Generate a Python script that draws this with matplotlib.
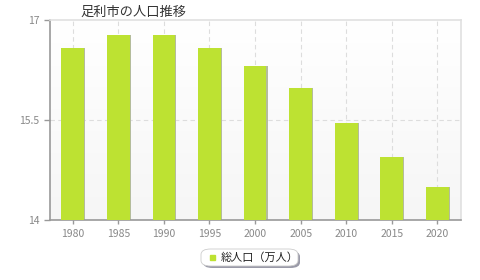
import matplotlib.pyplot as plt
import numpy as np
from matplotlib.patches import FancyBboxPatch

plt.rcParams['font.family'] = ['Noto Sans CJK JP', 'DejaVu Sans']

years = [1980, 1985, 1990, 1995, 2000, 2005, 2010, 2015, 2020]
population = [16.58, 16.77, 16.77, 16.58, 16.31, 15.98, 15.45, 14.95, 14.50]
yticks = [14, 15.5, 17]
ytick_labels = ['14', '15.5', '17']
title = '足利市の人口推移'
series_name = '総人口（万人）'

bar_color = '#bde232'

fig = plt.figure(figsize=(4.8, 2.8), dpi=100)
ax = fig.add_axes([50 / 480, 60 / 280, 411 / 480, 200 / 280])

# background gradient (white at top, light gray at bottom)
grad = np.linspace(0.0, 1.0, 100).reshape(-1, 1)
ax.imshow(grad, extent=[1977.5, 2022.6, 14, 17], aspect='auto',
          cmap=plt.matplotlib.colors.LinearSegmentedColormap.from_list(
              'bg', ['#ffffff', '#f6f6f6']), zorder=0, origin='upper')

ax.set_xlim(1977.5, 2022.6)
ax.set_ylim(14, 17)

# grid
for y in years:
    ax.axvline(y, color='#dddddd', ls=(0, (4, 3)), lw=0.8, zorder=1)
ax.axhline(15.5, color='#dddddd', ls=(0, (4, 3)), lw=0.8, zorder=1)

# shadow then bars
ax.bar(np.array(years) + 0.12, np.array(population) - 14, bottom=14, width=2.5,
       color='#b4bc9c', zorder=2)
ax.bar(years, np.array(population) - 14, bottom=14, width=2.5,
       color=bar_color, zorder=3)

ax.set_xticks(years)
ax.set_xticklabels([str(y) for y in years])
ax.set_yticks(yticks)
ax.set_yticklabels(ytick_labels)
ax.tick_params(axis='both', colors='#999999', labelcolor='#888888',
               labelsize=7.5, length=4, width=1)
ax.tick_params(axis='x', length=3)

for s in ['left', 'bottom']:
    ax.spines[s].set_color('#999999')
    ax.spines[s].set_linewidth(1.2)
for s in ['top', 'right']:
    ax.spines[s].set_color('#e0e0e0')
    ax.spines[s].set_linewidth(1.2)

fig.text(80 / 480, 1 - 12 / 280, title, fontsize=9.5, color='#333333',
         va='center', ha='left')

# legend box with shadow
shadow = FancyBboxPatch((203 / 480, 1 - 268 / 280), 97 / 480, 17 / 280,
                        boxstyle='round,pad=0,rounding_size=0.02',
                        transform=fig.transFigure, facecolor='#9a9aa8',
                        edgecolor='none', zorder=4)
fig.patches.append(shadow)
box = FancyBboxPatch((201 / 480, 1 - 266 / 280), 97 / 480, 17 / 280,
                     boxstyle='round,pad=0,rounding_size=0.02',
                     transform=fig.transFigure, facecolor='white',
                     edgecolor='#cccccc', lw=0.6, zorder=5)
fig.patches.append(box)
fig.patches.append(plt.Rectangle((210 / 480, 1 - 260 / 280), 5 / 480, 5 / 280,
                                 transform=fig.transFigure, color=bar_color,
                                 zorder=6))
fig.text(221 / 480, 1 - 257.5 / 280, series_name, fontsize=8, color='#222222',
         va='center', ha='left', zorder=7)

fig.savefig('out.png', dpi=100)
